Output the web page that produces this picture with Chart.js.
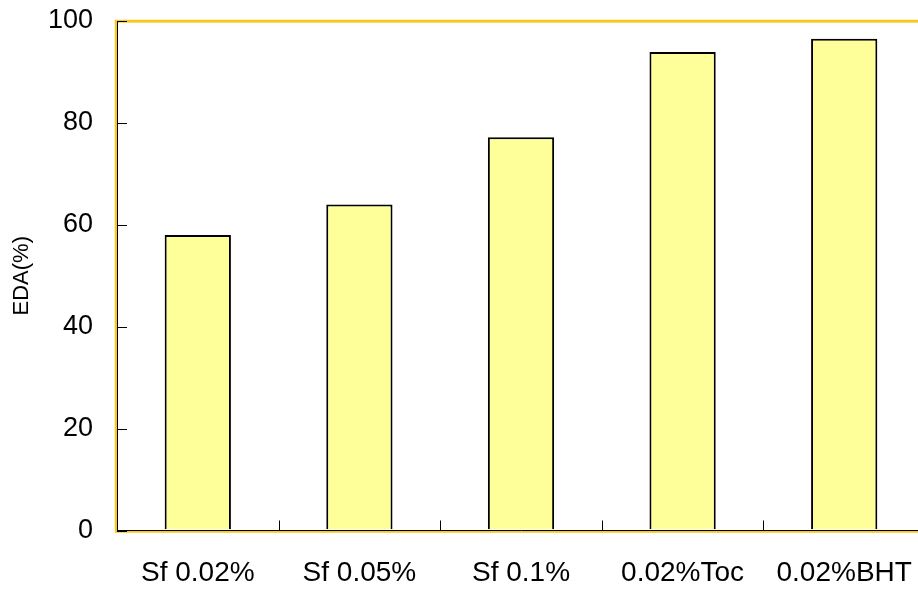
<!DOCTYPE html>
<html>
<head>
<meta charset="utf-8">
<script src="https://cdn.jsdelivr.net/npm/chart.js@4.4.1/dist/chart.umd.min.js"></script>
<style>
  html, body { margin: 0; padding: 0; background: #ffffff; overflow: hidden; }
  #wrap { width: 925px; height: 592px; }
</style>
</head>
<body>
<div id="wrap"><canvas id="c" width="925" height="592"></canvas></div>
<script>
// Categories and EDA values (%)
const categories = ['Sf 0.02%', 'Sf 0.05%', 'Sf 0.1%', '0.02%Toc', '0.02%BHT'];
const edaValues = [58, 64, 77.2, 93.9, 96.5];
const yTickValues = [0, 20, 40, 60, 80, 100];

const FONT = '"Liberation Sans", Arial, sans-serif';
const GOLD = '#F7C81E';

// Gold frame around the plot area, drawn beneath the black axis lines
const plotFrame = {
  id: 'plotFrame',
  beforeDraw(chart) {
    const { ctx, chartArea: a } = chart;
    ctx.save();
    ctx.strokeStyle = GOLD;
    ctx.lineWidth = 2.5;
    ctx.beginPath();
    ctx.moveTo(a.right + 5, a.top);
    ctx.lineTo(a.left - 1, a.top);
    ctx.lineTo(a.left - 1, a.bottom + 1);
    ctx.lineTo(a.right + 5, a.bottom + 1);
    ctx.stroke();
    ctx.restore();
  }
};

// Short tick marks pointing into the plot area
const innerTicks = {
  id: 'innerTicks',
  afterDatasetsDraw(chart) {
    const { ctx, chartArea: a, scales } = chart;
    const x = scales.x, y = scales.y;
    ctx.save();
    ctx.strokeStyle = '#000000';
    ctx.lineWidth = 1;
    ctx.beginPath();
    for (let i = 0; i < categories.length - 1; i++) {
      const px = Math.round((x.getPixelForValue(i) + x.getPixelForValue(i + 1)) / 2) + 0.5;
      ctx.moveTo(px, a.bottom);
      ctx.lineTo(px, a.bottom - 10);
    }
    yTickValues.forEach(v => {
      const py = Math.round(y.getPixelForValue(v)) + 0.5;
      ctx.moveTo(a.left, py);
      ctx.lineTo(a.left + 10, py);
    });
    ctx.stroke();
    ctx.restore();
  }
};

new Chart(document.getElementById('c'), {
  type: 'bar',
  data: {
    labels: categories,
    datasets: [{
      data: edaValues,
      backgroundColor: '#FFFF99',
      borderColor: '#000000',
      borderWidth: 2,
      borderSkipped: 'bottom',
      categoryPercentage: 1,
      barPercentage: 0.41
    }]
  },
  options: {
    responsive: false,
    animation: false,
    devicePixelRatio: 1,
    layout: { padding: { top: 21, right: 0, left: 0, bottom: 0 } },
    plugins: {
      legend: { display: false },
      tooltip: { enabled: false }
    },
    scales: {
      x: {
        offset: true,
        grid: { display: false, drawTicks: false },
        border: { display: true, color: '#000000', width: 1 },
        ticks: {
          color: '#000000',
          font: { family: FONT, size: 28 },
          padding: 26,
          maxRotation: 0,
          autoSkip: false
        },
        afterFit(scale) {
          scale.height = 61.5;
          scale.paddingLeft = 0;
          scale.paddingRight = 0;
        }
      },
      y: {
        min: 0,
        max: 100,
        afterBuildTicks(scale) { scale.ticks = yTickValues.map(v => ({ value: v })); },
        grid: {
          drawTicks: false,
          color: ctx => (ctx.tick && ctx.tick.value === 100) ? GOLD : 'rgba(0,0,0,0)',
          lineWidth: 2.5
        },
        border: { display: true, color: '#000000', width: 1 },
        ticks: {
          color: '#000000',
          font: { family: FONT, size: 27 },
          padding: 24
        },
        title: {
          display: true,
          text: 'EDA(%)',
          color: '#000000',
          font: { family: FONT, size: 22 },
          padding: { top: 9, bottom: 0 }
        },
        afterFit(scale) {
          scale.width = 117;
          scale.paddingTop = 0;
          scale.paddingBottom = 0;
        }
      }
    }
  },
  plugins: [plotFrame, innerTicks]
});
</script>
</body>
</html>
